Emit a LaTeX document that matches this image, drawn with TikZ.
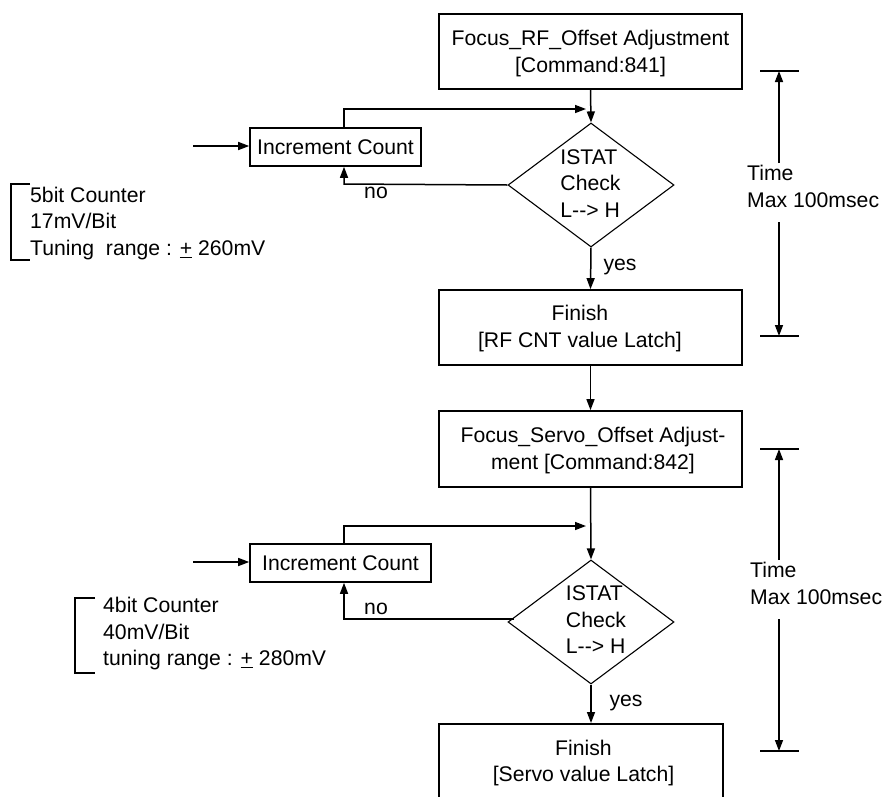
\documentclass[tikz,border=0pt]{standalone}
\usepackage{fontspec}
\setmainfont{Liberation Sans}
\usetikzlibrary{shapes.geometric,arrows.meta}
\begin{document}
\begin{tikzpicture}[x=1pt,y=-1pt,
  font=\fontsize{21.2}{26.5}\selectfont,
  box/.style={draw,line width=1.7pt,inner sep=0pt,align=center},
  dia/.style={draw,diamond,line width=1.1pt,minimum width=166pt,minimum height=124pt,inner sep=0pt},
  conn/.style={line width=1.5pt},
  arr/.style={conn,-{Triangle[length=11pt,width=8pt]}},
  txt/.style={inner sep=0pt,align=left},
  tick/.style={line width=1.5pt}]
\clip (0,0) rectangle (887,796);
\useasboundingbox (0,0) rectangle (887,796);

% ---------- upper part ----------
\node[box,minimum width=303pt,minimum height=75pt] (b1) at (590.5,51.5) {};
\node[txt,align=center] (b1t) at (590.5,54) {Focus\_RF\_Offset Adjustment\\[0.5pt][Command:841]};
\node[dia] (d1) at (591,185) {};
\node[txt] (d1t) at (590.5,183.5) {ISTAT\\Check\\L\mbox{-}\mbox{-}> H};
\node[box,minimum width=303pt,minimum height=75pt] (f1) at (590.5,327.5) {};
\node[txt,align=center] (f1t) at (580,328.5) {Finish\\[0pt][RF CNT value Latch]};
\node[box,minimum width=171pt,minimum height=38pt,line width=1.6pt] (i1) at (335.5,147) {Increment Count};

\coordinate (in1) at (193,146);
\coordinate (j1) at (586,109);
\coordinate (k1) at (344,109);
\coordinate (n1) at (344,184);

\draw[arr] (b1.south) -- (d1.north);
\draw[arr] (in1) -- (in1 -| i1.west);
\draw[arr] (i1.north -| k1) -- (k1) -- (j1);
\draw[arr] (d1.west) -- (n1) -- (i1.south -| n1);
\draw[arr] (d1.south) -- (f1.north);
\node[inner sep=0pt] (no1) at (376,193) {no};
\node[inner sep=0pt] (yes1) at (620,267) {yes};

% bracket 1
\draw[conn,line width=1.7pt] (30,184) -- (11,184) -- (11,260) -- (30,260);
\node[txt,anchor=west] (c1) at (30,223.5) {5bit Counter\\17mV/Bit\\Tuning\ \ range : \underline{+} 260mV};

% time 1
\coordinate (t1a) at (779,71);
\coordinate (t1b) at (779,336);
\coordinate (g1a) at (779,163);
\coordinate (g1b) at (779,222);
\draw[tick] ([xshift=-19pt]t1a) -- ([xshift=20pt]t1a);
\draw[tick] ([xshift=-19pt]t1b) -- ([xshift=20pt]t1b);
\draw[arr] (g1a) -- (t1a);
\draw[arr] (g1b) -- (t1b);
\node[txt,anchor=west] (tm1) at (747,186.5) {Time\\Max 100msec};

% ---------- lower part ----------
\node[box,minimum width=303pt,minimum height=76pt] (b2) at (590.5,449) {};
\node[txt,align=center] (b2t) at (593,450.5) {Focus\_Servo\_Offset Adjust-\\[0.5pt]ment [Command:842]};
\draw[arr] (f1.south) -- (b2.north);
\node[dia] (d2) at (591,622) {};
\node[txt] (d2t) at (596,620) {ISTAT\\Check\\L\mbox{-}\mbox{-}> H};
\node[box,minimum width=284pt,minimum height=80pt,anchor=north] (f2) at (581,723) {};
\node[txt,align=center] (f2t) at (583.5,763) {Finish\\[0pt][Servo value Latch]};
\node[box,minimum width=181pt,minimum height=38pt,line width=1.6pt] (i2) at (340.5,563) {Increment Count};

\coordinate (in2) at (193,562);
\coordinate (j2) at (586,526);
\coordinate (k2) at (344,526);
\coordinate (n2) at (344,619);
\coordinate (m2) at (514,619);

\draw[arr] (b2.south) -- (d2.north);
\draw[arr] (in2) -- (in2 -| i2.west);
\draw[arr] (i2.north -| k2) -- (k2) -- (j2);
\draw[arr] (m2) -- (n2) -- (i2.south -| n2);
\draw[arr] (d2.south) -- (d2.south |- f2.north);
\node[inner sep=0pt] (no2) at (376,609) {no};
\node[inner sep=0pt] (yes2) at (626,703) {yes};

% bracket 2
\draw[conn,line width=1.7pt] (95,598) -- (75,598) -- (75,673) -- (95,673);
\node[txt,anchor=west] (c2) at (103,634) {4bit Counter\\40mV/Bit\\tuning range : \underline{+} 280mV};

% time 2
\coordinate (t2a) at (779,449);
\coordinate (t2b) at (779,751);
\coordinate (g2a) at (779,560);
\coordinate (g2b) at (779,619);
\draw[tick] ([xshift=-19pt]t2a) -- ([xshift=20pt]t2a);
\draw[tick] ([xshift=-19pt]t2b) -- ([xshift=20pt]t2b);
\draw[arr] (g2a) -- (t2a);
\draw[arr] (g2b) -- (t2b);
\node[txt,anchor=west] (tm2) at (750,583.5) {Time\\Max 100msec};
\end{tikzpicture}
\end{document}
